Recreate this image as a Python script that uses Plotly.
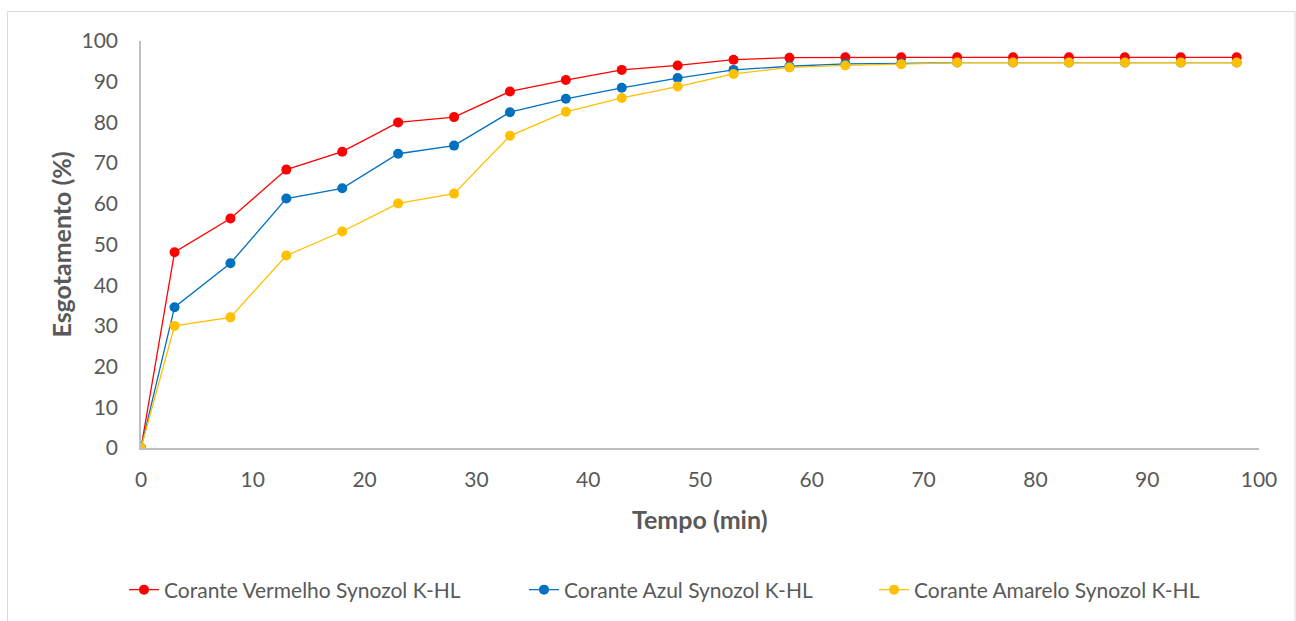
import plotly.graph_objects as go

tempo = [0, 3, 8, 13, 18, 23, 28, 33, 38, 43, 48, 53, 58, 63, 68, 73, 78, 83, 88, 93, 98]
vermelho = [0, 48.1, 56.4, 68.4, 72.8, 80.0, 81.3, 87.6, 90.4, 92.9, 94.0, 95.4, 95.9, 96.0,
            96.0, 96.0, 96.0, 96.0, 96.0, 96.0, 96.0]
azul = [0, 34.6, 45.4, 61.3, 63.8, 72.3, 74.3, 82.5, 85.8, 88.5, 90.9, 92.9, 93.8, 94.4,
        94.5, 94.7, 94.7, 94.7, 94.7, 94.7, 94.7]
amarelo = [0, 30.0, 32.1, 47.3, 53.2, 60.1, 62.5, 76.7, 82.6, 86.0, 88.8, 91.9, 93.5, 94.0,
           94.3, 94.7, 94.7, 94.7, 94.7, 94.7, 94.7]

series_names = ["Corante Vermelho Synozol K-HL", "Corante Azul Synozol K-HL",
                "Corante Amarelo Synozol K-HL"]
series_vals = [vermelho, azul, amarelo]
colors = ["#FF0000", "#0070C0", "#FFC000"]
legend_ids = ["legend", "legend2", "legend3"]
legend_left_px = [132, 532, 882]

FONT = "Lato"
TXT = "#595959"

fig = go.Figure()
for name, vals, col, lg in zip(series_names, series_vals, colors, legend_ids):
    fig.add_trace(go.Scatter(
        x=tempo, y=vals, name=name, mode="lines+markers", legend=lg,
        line=dict(color=col, width=1.3),
        marker=dict(color=col, size=10, line=dict(width=0)),
    ))

W, H = 1296, 621
L, R, T, B = 141, 37, 41, 172
pw = W - L - R
ph = H - T - B

def px_x(px):
    return (px - L) / pw

def px_y(py):
    return (H - B - py) / ph

legends = {}
for lg, lx in zip(legend_ids, legend_left_px):
    legends[lg] = dict(orientation="h", x=px_x(lx - 8), y=px_y(590), xanchor="left",
                       yanchor="middle", font=dict(family=FONT, size=21, color=TXT),
                       bgcolor="rgba(0,0,0,0)")

fig.update_layout(
    width=W, height=H,
    margin=dict(l=L, r=R, t=T, b=B),
    paper_bgcolor="white", plot_bgcolor="white",
    font=dict(family=FONT, size=21, color=TXT),
    showlegend=True,
    xaxis=dict(range=[0, 100], dtick=10, showgrid=False, zeroline=False,
               showline=True, linecolor="#BFBFBF", linewidth=1.5,
               ticks="", ticklabelstandoff=12,
               tickfont=dict(family=FONT, size=21, color=TXT)),
    yaxis=dict(range=[0, 100], dtick=10, showgrid=False, zeroline=False,
               showline=True, linecolor="#BFBFBF", linewidth=1.5,
               ticks="", ticklabelstandoff=17,
               tickfont=dict(family=FONT, size=21, color=TXT)),
    annotations=[
        dict(text="<b>Tempo (min)</b>", xref="paper", yref="paper",
             x=px_x(700), y=px_y(520), showarrow=False, xanchor="center", yanchor="middle",
             font=dict(family=FONT, size=25, color=TXT)),
        dict(text="<b>Esgotamento (%)</b>", xref="paper", yref="paper",
             x=px_x(60), y=px_y(245), showarrow=False, xanchor="center", yanchor="middle",
             textangle=-90, font=dict(family=FONT, size=25, color=TXT)),
    ],
    shapes=[
        dict(type="rect", xref="paper", yref="paper",
             x0=px_x(7.5), x1=px_x(1295), y0=px_y(630), y1=px_y(11.5),
             line=dict(color="#D9D9D9", width=1), fillcolor="rgba(0,0,0,0)", layer="below"),
    ],
    **legends,
)

fig.write_html("out.html")
